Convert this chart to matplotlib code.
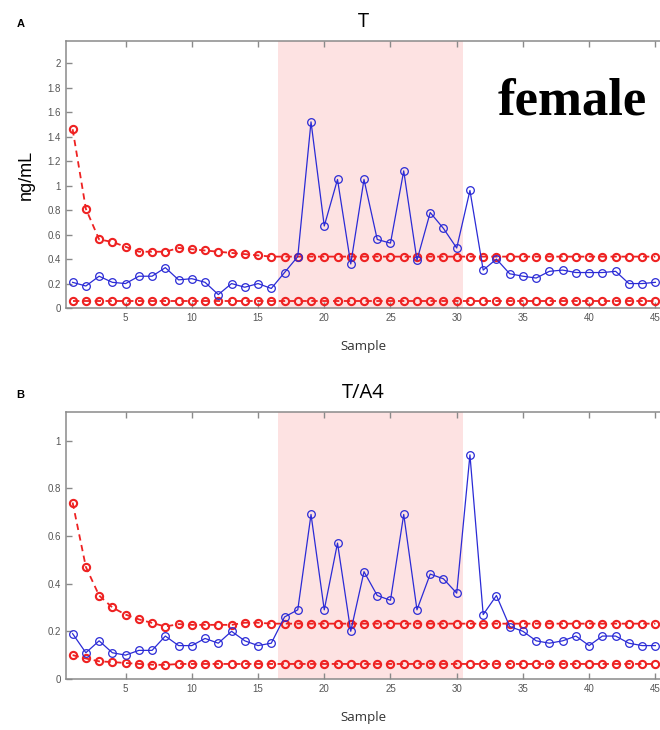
import numpy as np
import matplotlib
matplotlib.use('Agg')
import matplotlib.pyplot as plt

samples = np.arange(1, 46)

# panel A: T (ng/mL)
t_obs = [0.21, 0.18, 0.26, 0.21, 0.20, 0.26, 0.26, 0.33, 0.23, 0.24,
         0.21, 0.11, 0.20, 0.17, 0.20, 0.16, 0.29, 0.42, 1.52, 0.67,
         1.05, 0.36, 1.05, 0.56, 0.53, 1.12, 0.39, 0.78, 0.65, 0.49,
         0.96, 0.31, 0.40, 0.28, 0.26, 0.245, 0.30, 0.31, 0.29, 0.29,
         0.29, 0.30, 0.20, 0.20, 0.21]
t_upper = [1.46, 0.81, 0.56, 0.54, 0.50, 0.46, 0.46, 0.46, 0.49, 0.48,
           0.47, 0.46, 0.45, 0.44, 0.43, 0.42] + [0.42] * 29
t_lower = [0.055] * 45

# panel B: T/A4
ta_obs = [0.19, 0.11, 0.16, 0.11, 0.10, 0.12, 0.12, 0.18, 0.14, 0.14,
          0.17, 0.15, 0.20, 0.16, 0.14, 0.15, 0.26, 0.29, 0.69, 0.29,
          0.57, 0.20, 0.45, 0.35, 0.33, 0.69, 0.29, 0.44, 0.42, 0.36,
          0.94, 0.27, 0.35, 0.22, 0.20, 0.16, 0.15, 0.16, 0.18, 0.14,
          0.18, 0.18, 0.15, 0.14, 0.14]
ta_upper = [0.74, 0.47, 0.35, 0.30, 0.27, 0.25, 0.235, 0.22, 0.23, 0.227,
            0.227, 0.227, 0.227, 0.236, 0.236] + [0.232] * 30
ta_lower = [0.10, 0.086, 0.074, 0.071, 0.067, 0.063, 0.060, 0.059] + [0.063] * 37

# shaded window of samples
win_start, win_end = 16.5, 30.5

blue = '#2b2bd6'
red = '#ee2222'
pink = '#fde2e2'
gray = '#8a8a8a'
tick_gray = '#555555'

fig = plt.figure(figsize=(6.6, 7.3), dpi=100)


def draw_panel(ax, obs, upper, lower, ymax, yticks, ylabels, title, letter, ylabel=None):
    ax.axvspan(win_start, win_end, color=pink, lw=0, zorder=0)
    for ref in (upper, lower):
        ax.plot(samples, ref, color=red, ls=(0, (3.5, 2.5)), lw=1.3,
                marker='o', ms=5.2, mfc='none', mec=red, mew=1.5, zorder=2)
    ax.plot(samples, obs, color=blue, lw=0.9, marker='o', ms=5.5,
            mfc='none', mec=blue, mew=0.9, zorder=3)
    ax.set_xlim(0.5, 45.35)
    ax.set_ylim(0, ymax)
    ax.set_xticks(range(5, 46, 5))
    ax.set_yticks(yticks)
    ax.set_yticklabels(ylabels)
    ax.tick_params(direction='in', length=4, width=1, color=gray,
                   labelsize=7, labelcolor=tick_gray, top=True, right=False)
    for lab in ax.get_xticklabels() + ax.get_yticklabels():
        lab.set_family('Liberation Sans')
    for side in ('left', 'bottom', 'top'):
        ax.spines[side].set_color(gray)
        ax.spines[side].set_linewidth(1.1)
    ax.spines['right'].set_visible(False)
    ax.set_xlabel('Sample', family='Open Sans', fontsize=9.5, color='#333333', labelpad=12)
    if ylabel:
        ax.set_ylabel(ylabel, family='Liberation Sans', fontsize=13, labelpad=9)
    ax.set_title(title, family='Open Sans', fontsize=14.5, pad=10)
    ax.text(-0.083, 1.065, letter, transform=ax.transAxes, fontsize=8,
            fontweight='bold', family='Liberation Sans', ha='left', va='center')


ax1 = fig.add_axes([0.1, 0.578, 0.9, 0.3658])
draw_panel(ax1, t_obs, t_upper, t_lower, 2.18,
           [0, 0.2, 0.4, 0.6, 0.8, 1, 1.2, 1.4, 1.6, 1.8, 2],
           ['0', '0.2', '0.4', '0.6', '0.8', '1', '1.2', '1.4', '1.6', '1.8', '2'],
           'T', 'A', ylabel='ng/mL')
ax1.text(0.853, 0.775, 'female', transform=ax1.transAxes, family='Liberation Serif',
         fontweight='bold', fontsize=38, ha='center', va='center')

ax2 = fig.add_axes([0.1, 0.0699, 0.9, 0.3658])
draw_panel(ax2, ta_obs, ta_upper, ta_lower, 1.12,
           [0, 0.2, 0.4, 0.6, 0.8, 1],
           ['0', '0.2', '0.4', '0.6', '0.8', '1'],
           'T/A4', 'B')

fig.savefig('out.png', dpi=100)
